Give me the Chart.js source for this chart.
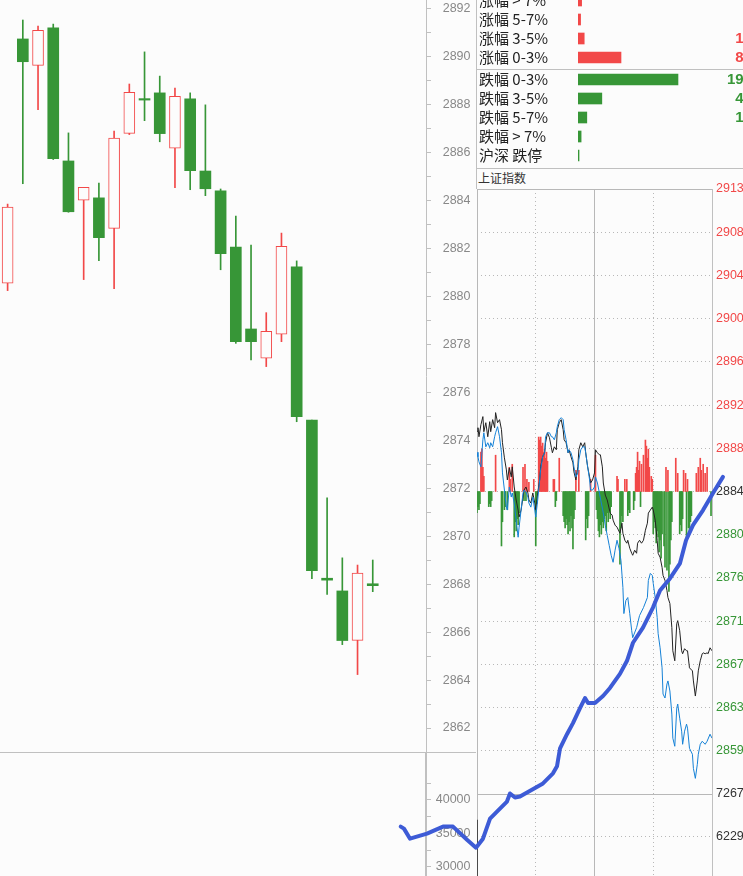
<!DOCTYPE html>
<html>
<head>
<meta charset="utf-8">
<title>上证指数</title>
<script src="https://cdn.jsdelivr.net/npm/chart.js@4.4.1/dist/chart.umd.min.js"></script>
<style>
  html, body { margin:0; padding:0; background:#fcfcfc; }
  #wrap { position:relative; width:743px; height:876px; overflow:hidden; background:#fcfcfc; }
  #wrap canvas { position:absolute; }
  .ln { position:absolute; background:#c0c0c0; }
  #title { position:absolute; left:478px; top:170px; font:12px "Noto Sans CJK SC", sans-serif; color:#333; line-height:16px; }
</style>
</head>
<body>
<div id="wrap">
  <canvas id="kline" width="476" height="752" style="left:0;top:0"></canvas>
  <canvas id="volLeft" width="476" height="160" style="left:0;top:745px"></canvas>
  <div class="ln" style="left:0;top:752px;width:476px;height:1px"></div>
  <div class="ln" style="left:476px;top:0;width:1px;height:189px"></div>
  <div class="ln" style="left:477px;top:69px;width:266px;height:1px"></div>
  <div class="ln" style="left:477px;top:168px;width:266px;height:1px"></div>
  <canvas id="riseBars" width="264" height="76" style="left:479px;top:-9px"></canvas>
  <canvas id="fallBars" width="264" height="95" style="left:479px;top:70px"></canvas>
  <div id="title">上证指数</div>
  <canvas id="fenshi" width="266" height="620" style="left:477px;top:180px"></canvas>
  <canvas id="fsVol" width="266" height="320" style="left:477px;top:787px"></canvas>
  <canvas id="stroke" width="743" height="876" style="left:0;top:0"></canvas>
</div>
<script>
// ===== 日K线 =====
var kOpen  = [2880.56,2890.75,2889.65,2891.21,2885.66,2884.02,2884.12,2882.85,2886.81,2888.26,2888.50,2886.19,2888.25,2885.24,2884.41,2882.07,2878.65,2877.43,2878.43,2881.24,2874.85,2868.25,2867.72,2865.66,2868.02];
var kHigh  = [2883.86,2891.54,2891.29,2891.37,2886.83,2884.56,2884.74,2886.91,2888.87,2890.21,2889.20,2888.70,2888.50,2888.00,2884.49,2883.36,2882.15,2879.33,2882.65,2881.49,2874.85,2871.60,2869.10,2868.80,2869.01];
var kLow   = [2880.25,2884.71,2887.80,2885.72,2883.52,2880.71,2881.50,2880.33,2886.76,2887.34,2886.46,2884.54,2884.46,2884.21,2881.12,2878.05,2877.36,2877.08,2878.12,2874.78,2868.23,2867.57,2865.48,2864.23,2867.69];
var kClose = [2883.73,2889.80,2891.11,2885.75,2883.54,2884.56,2882.46,2886.61,2888.52,2888.20,2886.80,2888.36,2885.25,2884.50,2881.79,2878.12,2878.12,2878.55,2882.10,2874.99,2868.57,2868.17,2865.65,2868.46,2867.94];
var kTicks = [2862,2863,2864,2865,2866,2867,2868,2869,2870,2871,2872,2873,2874,2875,2876,2877,2878,2879,2880,2881,2882,2883,2884,2885,2886,2887,2888,2889,2890,2891,2892];
var volLeftTicks = [27500,30000,32500,35000,37500,40000,42500];

// ===== 涨跌分布 =====
var riseLabels = ['涨幅 > 7%','涨幅 5-7%','涨幅 3-5%','涨幅 0-3%'];
var riseCounts = [7,5,12,83];
var fallLabels = ['跌幅 0-3%','跌幅 3-5%','跌幅 5-7%','跌幅 > 7%','沪深 跌停'];
var fallCounts = [193,46,17,6,2];

// ===== 分时 =====
var prevClose = 2883.76;
var priceTicks = [2854.92,2859.04,2863.16,2867.28,2871.40,2875.52,2879.64,2883.76,2887.88,2892.00,2896.12,2900.24,2904.36,2908.48,2912.60];
var timeTicks = [0,60,120,180,240];
var volTicks = [0,1038.14,2076.29,3114.43,4152.57,5190.71,6228.86,7267];

var blackMin = [0,1,2,4,6,7,9,11,13,14,16,18,19,21,23,25,26,28,30,31,33,35,36,38,40,42,43,45,47,48,50,52,53,55,57,59,60,62,64,65,67,69,70,72,74,76,77,79,81,82,84,86,88,89,91,93,94,96,98,99,101,103,104,106,108,110,111,113,115,116,118,120,121,123,125,126,128,129,131,133,136,138,139,141,143,146,148,149,151,153,154,156,158,159,161,163,164,166,168,170,172,174,175,177,179,180,182,184,185,187,189,190,192,194,195,197,199,200,202,204,205,207,209,210,212,214,215,217,220,221,223,225,226,228,230,231,233,235,236,238,240];
var blackPrice = [2889.5,2889.84,2888.98,2890.13,2890.90,2889.46,2890.32,2888.98,2890.42,2889.46,2890.61,2889.84,2891.28,2890.32,2890.61,2889.65,2888.41,2886.97,2885.82,2884.86,2886.01,2885.15,2886.11,2884.19,2882.95,2881.99,2881.32,2881.99,2883.23,2883.90,2884.19,2883.62,2882.95,2882.66,2883.62,2882.66,2881.99,2883.62,2884.86,2886.11,2887.07,2887.45,2888.41,2889.36,2888.89,2887.93,2887.45,2888.02,2887.74,2889.65,2890.32,2890.61,2889.65,2888.69,2888.41,2887.45,2887.74,2887.07,2886.49,2885.63,2884.86,2886.11,2887.74,2888.41,2888.02,2888.41,2887.45,2886.11,2885.15,2884.57,2884.86,2885.53,2887.74,2887.45,2887.26,2887.26,2886.11,2884.57,2883.42,2882.95,2881.70,2881.51,2881.03,2880.55,2880.36,2879.78,2880.74,2879.78,2879.11,2878.83,2879.11,2878.35,2877.87,2877.68,2878.16,2877.87,2878.83,2879.11,2878.83,2879.11,2880.07,2880.74,2881.70,2881.99,2882.27,2881.99,2881.03,2879.11,2877.87,2877.48,2876.53,2875.76,2875.28,2874.32,2873.65,2873.08,2870.78,2868.57,2867.62,2871.16,2871.45,2870.49,2868.57,2868.29,2868.77,2868.57,2868.57,2866.95,2866.66,2865.70,2864.26,2865.70,2866.66,2867.62,2868.29,2868.38,2868.29,2868.38,2868.29,2868.86,2868.57];

var blueMin = [0,1,2,4,6,7,9,11,13,14,16,18,19,21,23,25,26,28,30,31,33,35,36,38,40,42,43,45,47,48,50,52,53,55,57,59,60,62,64,65,67,69,70,72,74,76,77,79,81,82,84,86,88,89,91,93,94,96,98,99,101,103,104,106,108,110,111,113,115,116,118,120,121,123,125,127,129,131,133,135,137,139,141,143,145,147,149,150,152,154,156,158,159,163,166,170,174,175,177,179,180,182,184,185,187,189,190,192,194,195,197,199,200,202,204,205,207,209,210,212,214,215,217,220,221,223,225,226,228,230,233,235,238,240];
var bluePrice = [2887.5,2887.07,2886.59,2886.11,2888.69,2889.36,2888.02,2888.41,2887.93,2888.41,2888.02,2888.98,2889.36,2889.94,2888.98,2887.45,2885.53,2883.90,2882.27,2881.99,2884.19,2883.23,2883.62,2882.66,2881.03,2879.40,2880.36,2881.99,2883.62,2883.90,2883.71,2883.23,2882.66,2882.27,2883.23,2881.99,2881.32,2882.95,2884.86,2885.82,2887.07,2887.45,2888.98,2889.36,2889.36,2888.98,2888.98,2888.69,2889.36,2889.94,2890.61,2890.80,2890.61,2889.65,2888.69,2887.45,2887.74,2887.45,2886.78,2886.11,2885.15,2885.53,2886.78,2887.74,2888.02,2888.02,2887.45,2886.11,2884.86,2883.90,2883.90,2884.19,2885.15,2884.57,2883.62,2882.66,2881.70,2880.55,2879.59,2878.63,2877.68,2877.01,2878.16,2879.11,2878.35,2877.20,2874.61,2872.12,2873.36,2873.65,2872.12,2870.49,2869.82,2870.78,2871.93,2872.69,2873.65,2875.28,2875.95,2875.76,2874.99,2873.65,2871.74,2870.20,2868.86,2866.95,2864.45,2864.07,2865.41,2865.70,2864.74,2862.54,2860.24,2859.47,2863.11,2863.50,2862.15,2860.91,2859.66,2860.91,2861.58,2861.20,2859.28,2858.71,2857.36,2856.41,2857.75,2858.71,2859.66,2859.95,2859.66,2859.95,2860.62,2860.24];

// 红绿柱
var redMin = [4,5,6,7,19,33,34,36,47,49,51,53,58,63,64,65,66,67,68,69,70,71,72,78,79,84,101,104,116,121,143,144,151,153,162,163,164,165,166,168,170,172,173,174,175,176,178,179,193,195,203,205,211,213,215,224,226,228,229,231,233,235];
var redVal = [13,14,8,5,12,8,4,9,8,9,4,3,4,18,17,18,15,16,13,14,11,13,10,4,4,11,7,7,4,12,5,4,4,4,6,8,13,7,10,9,12,17,15,11,14,8,5,4,8,7,11,6,7,6,4,6,8,11,7,9,6,8];
var greenMin = [0,1,2,3,12,13,14,15,25,26,28,29,31,38,39,40,41,42,43,48,50,60,61,80,81,88,89,90,91,92,93,94,95,96,97,98,99,100,111,112,113,114,122,123,124,125,126,127,128,129,130,131,132,133,134,135,136,137,146,147,148,149,154,155,156,160,161,167,180,181,182,183,184,185,186,187,188,189,191,192,194,196,197,198,199,207,208,209,210,214,216,217,218,219,239];
var greenVal = [-7,-5,-6,-4,-5,-4,-5,-3,-18,-10,-6,-5,-6,-15,-10,-13,-9,-11,-7,-3,-3,-18,-4,-5,-3,-8,-10,-12,-9,-11,-14,-10,-13,-8,-12,-19,-9,-6,-16,-9,-12,-8,-6,-9,-13,-15,-11,-14,-10,-12,-9,-8,-13,-7,-10,-6,-9,-5,-24,-12,-8,-10,-8,-6,-7,-6,-3,-5,-14,-10,-12,-17,-13,-15,-20,-16,-22,-14,-18,-25,-26,-33,-24,-16,-10,-14,-11,-13,-9,-16,-12,-14,-10,-8,-8];

// 成交量 (只看得到开盘第一根)
var volMin = [0];
var volVal = [6640];

// 手画的粗蓝线
var strokeMin = [-77.9,-74.6,-68.4,-51.1,-34.7,-24.5,-10.2,-1.0,6.1,13.3,20.4,30.6,33.7,38.8,43.9,67.4,77.6,81.7,84.8,91.9,98.0,105.2,110.3,113.4,120.5,128.7,135.8,146.0,153.2,159.3,169.5,179.7,186.9,197.1,207.3,213.5,220.6,230.9,241.1,251.2];
var strokePrice = [2851.81,2851.62,2850.66,2851.14,2851.81,2851.81,2850.56,2849.80,2850.66,2852.57,2853.24,2854.20,2854.97,2854.59,2854.68,2855.93,2856.89,2857.56,2859.28,2860.62,2861.68,2863.11,2864.07,2863.59,2863.59,2864.26,2865.03,2866.37,2867.62,2869.34,2870.78,2872.69,2874.32,2875.47,2876.91,2879.11,2880.55,2881.99,2883.62,2885.15];

var RED = '#f24848', GREEN = '#379637', BG = '#fcfcfc';
var AXIS_FONT = {family:'Liberation Sans', size:12.5};

function isUp(i){ return kClose[i] > kOpen[i]; }
// 不让刻度文字挤压绘图区
function noPad(s){ s.paddingTop = 0; s.paddingBottom = 0; }

/***** K线 *****/
new Chart(document.getElementById('kline'), {
    type: 'bar',
    data: {
        datasets: [{
            data: kOpen.map(function(o,i){ return {x:i, y:[kLow[i], kHigh[i]]}; }),
            backgroundColor: function(c){ return isUp(c.dataIndex) ? RED : GREEN; },
            barThickness: 1, grouped: false, order: 2
        },{
            data: kOpen.map(function(o,i){ return {x:i, y:[o, kClose[i]]}; }),
            backgroundColor: function(c){ return isUp(c.dataIndex) ? BG : GREEN; },
            borderColor: function(c){ return isUp(c.dataIndex) ? RED : GREEN; },
            borderWidth: function(c){ return isUp(c.dataIndex) ? 1 : 0; },
            borderSkipped: false, barThickness: 11, grouped: false, order: 1
        }]
    },
    options: {
        responsive:false, animation:false, events:[],
        layout:{padding:{right:5.5}},
        plugins:{legend:{display:false}, tooltip:{enabled:false}},
        scales:{
            x:{type:'linear', display:false, offset:false, min:-0.5, max:27.5},
            y:{position:'right', min:2861.0, max:2892.375,
                afterBuildTicks:function(s){ s.ticks = kTicks.map(function(v){ return {value:v}; }); },
                afterFit:function(s){ s.width = 44.5; noPad(s); },
                grid:{drawOnChartArea:false, tickLength:5, tickColor:'#c0c0c0'},
                border:{color:'#c0c0c0'},
                ticks:{autoSkip:false, crossAlign:'far', color:'#888', font:AXIS_FONT,
                    callback:function(v){ return v % 2 === 0 ? v : ''; }}
            }
        }
    }
});

/***** 左下 成交量轴 *****/
new Chart(document.getElementById('volLeft'), {
    type: 'bar',
    data: {datasets:[{data:[]}]},
    options: {
        responsive:false, animation:false, events:[],
        layout:{padding:{top:8, bottom:4.6, right:5.5}},
        plugins:{legend:{display:false}, tooltip:{enabled:false}},
        scales:{
            x:{type:'linear', display:false, offset:false, min:-0.5, max:27.5},
            y:{position:'right', min:25000, max:47000,
                afterBuildTicks:function(s){ s.ticks = volLeftTicks.map(function(v){ return {value:v}; }); },
                afterFit:function(s){ s.width = 44.5; noPad(s); },
                grid:{drawOnChartArea:false, tickLength:5, tickColor:'#c0c0c0'},
                border:{color:'#c0c0c0', width:2},
                ticks:{autoSkip:false, crossAlign:'far', color:'#888', font:AXIS_FONT,
                    callback:function(v){ return v % 5000 === 0 ? v : ''; }}
            }
        }
    }
});

/***** 涨跌分布 *****/
function distChart(id, labels, counts, color){
    var countText = {
        id:'countText',
        afterDatasetsDraw:function(chart){
            var ctx = chart.ctx, meta = chart.getDatasetMeta(0);
            ctx.save();
            ctx.font = 'bold 15px "Liberation Sans"';
            ctx.fillStyle = color;
            ctx.textAlign = 'right';
            ctx.textBaseline = 'middle';
            meta.data.forEach(function(bar, i){
                ctx.fillText(String(counts[i]), chart.chartArea.right + 9, bar.y);
            });
            ctx.restore();
        }
    };
    return new Chart(document.getElementById(id), {
        type:'bar',
        data:{labels:labels, datasets:[{data:counts, backgroundColor:color, barThickness:11}]},
        options:{
            indexAxis:'y', responsive:false, animation:false, events:[],
            layout:{padding:0},
            plugins:{legend:{display:false}, tooltip:{enabled:false}},
            scales:{
                x:{display:false, min:0, max:318.5},
                y:{afterFit:function(s){ s.width = 99; noPad(s); },
                    grid:{display:false}, border:{display:false},
                    ticks:{autoSkip:false, crossAlign:'far', padding:0, color:'#222',
                        font:{family:'Noto Sans CJK SC', size:15}}}
            }
        },
        plugins:[countText]
    });
}
distChart('riseBars', riseLabels, riseCounts, RED);
distChart('fallBars', fallLabels, fallCounts, GREEN);

/***** 分时 *****/
function dotted(solidVals){
    return function(c){
        if (c.type !== 'tick' || !c.tick) return [];
        for (var i=0;i<solidVals.length;i++){ if (Math.abs(c.tick.value - solidVals[i]) < 1e-6) return []; }
        return [1,3];
    };
}
function timeAxis(){
    return {type:'linear', min:0, max:240, offset:false,
        afterBuildTicks:function(s){ s.ticks = timeTicks.map(function(v){ return {value:v}; }); },
        afterFit:function(s){ s.height = 0; },
        ticks:{display:false},
        grid:{drawTicks:false, offset:false, color:'#b8b8b8'},
        border:{color:'#c0c0c0', dash:dotted([0,120,240])}};
}
function pts(xs, ys){ return xs.map(function(x,i){ return {x:x, y:ys[i]}; }); }

new Chart(document.getElementById('fenshi'), {
    type:'line',
    data:{datasets:[
        {type:'line', data:pts(blueMin, bluePrice), borderColor:'#1581d6', borderWidth:1, pointRadius:0, order:0},
        {type:'line', data:pts(blackMin, blackPrice), borderColor:'#222', borderWidth:1, pointRadius:0, order:1},
        {type:'bar', data:pts(redMin, redVal), backgroundColor:RED, barThickness:1, grouped:false, yAxisID:'yf', order:2},
        {type:'bar', data:pts(greenMin, greenVal), backgroundColor:GREEN, barThickness:1, grouped:false, yAxisID:'yf', order:2}
    ]},
    options:{
        responsive:false, animation:false, events:[],
        layout:{padding:{top:9, bottom:6}},
        plugins:{legend:{display:false}, tooltip:{enabled:false}},
        scales:{
            x:timeAxis(),
            y:{position:'right', min:priceTicks[0], max:priceTicks[priceTicks.length-1],
                afterBuildTicks:function(s){ s.ticks = priceTicks.map(function(v){ return {value:v}; }); },
                afterFit:function(s){ s.width = 31; noPad(s); },
                grid:{drawTicks:false, color:'#b8b8b8'},
                border:{color:'#c0c0c0', dash:dotted([priceTicks[0], priceTicks[priceTicks.length-1]])},
                ticks:{padding:4, autoSkip:false, font:AXIS_FONT,
                    color:function(c){ var v = c.tick.value; return v > prevClose + 0.01 ? RED : (v < prevClose - 0.01 ? GREEN : '#333'); },
                    callback:function(v, i){ return i === 0 ? '' : String(Math.round(v)); }}
            },
            yf:{display:false, min:-100, max:100}
        }
    }
});

new Chart(document.getElementById('fsVol'), {
    type:'bar',
    data:{datasets:[{data:pts(volMin, volVal), backgroundColor:'#333', barThickness:1}]},
    options:{
        responsive:false, animation:false, events:[],
        layout:{padding:{top:7, bottom:12}},
        plugins:{legend:{display:false}, tooltip:{enabled:false}},
        scales:{
            x:timeAxis(),
            y:{position:'right', min:0, max:7267,
                afterBuildTicks:function(s){ s.ticks = volTicks.map(function(v){ return {value:v}; }); },
                afterFit:function(s){ s.width = 31; noPad(s); },
                grid:{drawTicks:false, color:'#b8b8b8'},
                border:{color:'#c0c0c0', dash:dotted([0, 7267])},
                ticks:{padding:4, autoSkip:false, font:AXIS_FONT, color:'#333',
                    // 只有上面两档在画面里标了数字
                    callback:function(v, i, all){ return i >= all.length - 2 ? String(Math.round(v)) : ''; }}
            }
        }
    }
});

/***** 粗蓝线 (与分时图同一时间/价格坐标, 左右放宽到 -80 ~ 252 分钟) *****/
new Chart(document.getElementById('stroke'), {
    type:'line',
    data:{datasets:[{data:pts(strokeMin, strokePrice), borderColor:'#3d5bd6', borderWidth:4,
        pointRadius:0, clip:false, borderJoinStyle:'round', borderCapStyle:'round'}]},
    options:{
        responsive:false, animation:false, events:[],
        layout:{padding:{left:398.67, right:19.25, top:189, bottom:82}},
        plugins:{legend:{display:false}, tooltip:{enabled:false}},
        scales:{
            x:{type:'linear', display:false, min:-80, max:252},
            y:{display:false, min:priceTicks[0], max:priceTicks[priceTicks.length-1]}
        }
    }
});
</script>
</body>
</html>
